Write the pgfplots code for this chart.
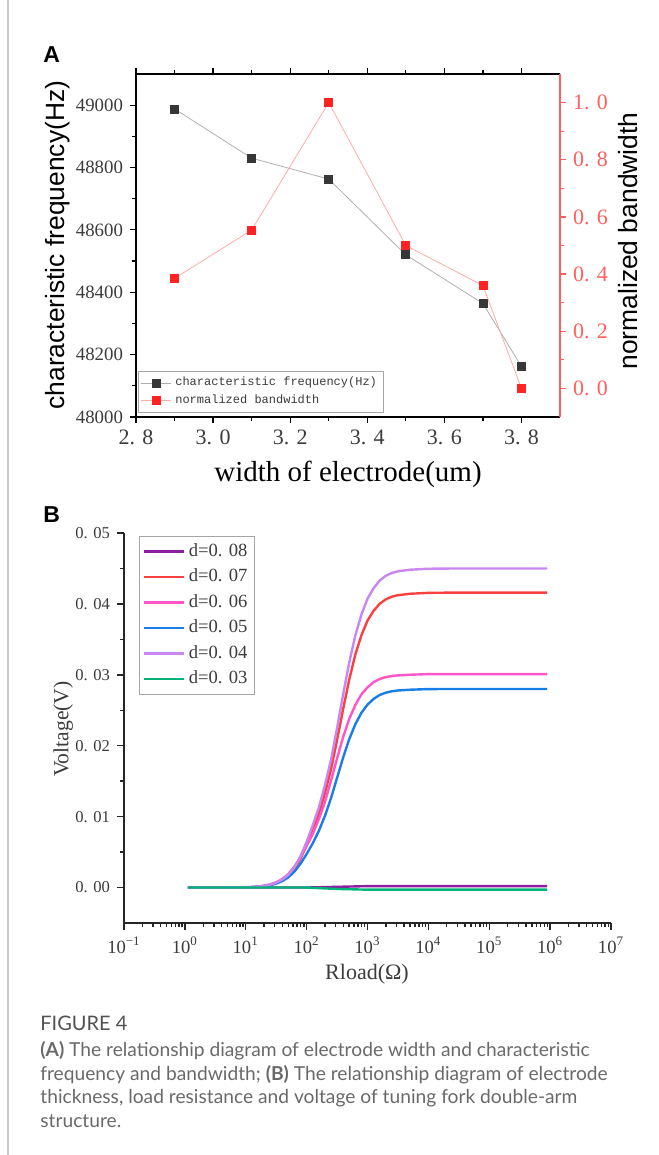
\documentclass[border=0pt]{standalone}
\usepackage{fontspec}
\setmainfont{Liberation Serif}
\setsansfont{Liberation Sans}
\setmonofont{Liberation Mono}
\newfontfamily\capfont{Lato}
\usepackage{pgfplots}
\pgfplotsset{compat=1.18}
\definecolor{fqdark}{RGB}{55,55,55}
\definecolor{fqline}{RGB}{175,175,175}
\definecolor{bwred}{RGB}{255,35,35}
\definecolor{bwline}{RGB}{255,170,170}
\definecolor{raxis}{RGB}{255,95,95}
\definecolor{dA}{RGB}{140,30,160}
\definecolor{dB}{RGB}{250,65,65}
\definecolor{dC}{RGB}{255,85,200}
\definecolor{dD}{RGB}{25,125,230}
\definecolor{dE}{RGB}{200,135,240}
\definecolor{dF}{RGB}{0,180,120}
\definecolor{txtgray}{RGB}{60,60,60}
\definecolor{capgray}{RGB}{105,105,105}

\begin{document}
\begin{tikzpicture}
\useasboundingbox (0,0) rectangle (329pt,577.5pt);
\draw[black!20, line width=1pt] (4pt,0) -- (4pt,577.5pt);
\node[anchor=base west, inner sep=0, font=\sffamily\bfseries\fontsize{11.5}{11.5}\selectfont] at (21.5pt,546pt) {A};
\node[anchor=base west, inner sep=0, font=\sffamily\bfseries\fontsize{11.5}{11.5}\selectfont] at (21.5pt,316pt) {B};

% panel A, frequency (left axis)
\begin{axis}[
  at={(68pt,369pt)}, anchor=south west, scale only axis,
  width=212pt, height=171.5pt,
  xmin=2.8, xmax=3.9, ymin=48000, ymax=49100,
  scaled ticks=false,
  axis x line*=box, axis y line*=left, axis line style={-, line width=0.7pt},
  tick align=outside, major tick length=3pt, minor tick length=2pt,
  tick style={black, line width=0.6pt},
  xtick={2.8,3,3.2,3.4,3.6,3.8}, xticklabels={2. 8,3. 0,3. 2,3. 4,3. 6,3. 8},
  ytick={48000,48200,48400,48600,48800,49000},
  yticklabels={48000,48200,48400,48600,48800,49000},
  minor x tick num=1, minor y tick num=1,
  x tick label style={font=\fontsize{11}{11}\selectfont, text=txtgray},
  y tick label style={font=\fontsize{9.4}{9.4}\selectfont, text=txtgray},
  xlabel={width of electrode(um)},
  ylabel={characteristic frequency(Hz)},
  xlabel style={at={(axis description cs:0.5,-0.166)}, anchor=center, font=\fontsize{14.5}{14.5}\selectfont},
  ylabel style={at={(axis description cs:-0.184,0.501)}, anchor=center, font=\sffamily\fontsize{13.2}{13.2}\selectfont},
]
\addplot[fqline, line width=0.4pt, mark=square*, mark size=2pt, mark options={draw=fqdark, fill=fqdark}]
  coordinates {(2.9,48988)(3.1,48830)(3.3,48763)(3.5,48520)(3.7,48364)(3.8,48162)};
\end{axis}

% panel A, bandwidth (right axis)
\begin{axis}[
  at={(68pt,369pt)}, anchor=south west, scale only axis,
  width=212pt, height=171.5pt,
  xmin=2.8, xmax=3.9, ymin=-0.1, ymax=1.1,
  axis x line=none, axis y line*=right,
  y axis line style={-, raxis, line width=0.7pt},
  tick align=outside, major tick length=3pt, minor tick length=2pt,
  ytick style={raxis, line width=0.6pt},
  ytick={0,0.2,0.4,0.6,0.8,1}, yticklabels={0. 0,0. 2,0. 4,0. 6,0. 8,1. 0},
  minor y tick num=1,
  y tick label style={font=\fontsize{11}{11}\selectfont, text=raxis},
  ylabel={normalized bandwidth},
  ylabel style={at={(axis description cs:1.16,0.513)}, anchor=center, font=\sffamily\fontsize{13.2}{13.2}\selectfont, text=black},
  legend style={at={(axis description cs:0.005,0.012)}, anchor=south west, draw=black!35,
    font=\ttfamily\fontsize{6}{6}\selectfont, text=txtgray, inner sep=1pt, row sep=-1pt},
  legend cell align=left,
  legend image code/.code={\draw[mark repeat=2, mark phase=2, #1] plot coordinates {(0pt,0pt) (7.5pt,0pt) (15pt,0pt)};},
]
\addlegendimage{fqline, line width=0.4pt, mark=square*, mark size=2pt, mark options={draw=fqdark, fill=fqdark}}
\addlegendentry{characteristic frequency(Hz)}
\addplot[bwline, line width=0.4pt, mark=square*, mark size=2pt, mark options={draw=bwred, fill=bwred}]
  coordinates {(2.9,0.385)(3.1,0.554)(3.3,1.0)(3.5,0.5)(3.7,0.36)(3.8,0.0)};
\addlegendentry{normalized bandwidth}
\end{axis}

% panel B
\begin{axis}[
  at={(62pt,116pt)}, anchor=south west, scale only axis,
  width=243.5pt, height=195pt,
  xmode=log, xmin=0.1, xmax=1e7, ymin=-0.005, ymax=0.05,
  scaled ticks=false,
  axis x line*=bottom, axis y line*=left, axis line style={-, line width=0.9pt, black!85},
  tick align=outside, major tick length=3.5pt, minor tick length=2pt,
  tick style={black!85, line width=0.7pt},
  xtick={0.1,1,10,100,1000,10000,100000,1000000,10000000},
  xticklabels={10\textsuperscript{−1},10\textsuperscript{0},10\textsuperscript{1},10\textsuperscript{2},10\textsuperscript{3},10\textsuperscript{4},10\textsuperscript{5},10\textsuperscript{6},10\textsuperscript{7}},
  ytick={0,0.01,0.02,0.03,0.04,0.05}, yticklabels={0. 00,0. 01,0. 02,0. 03,0. 04,0. 05},
  minor y tick num=1,
  y tick label style={font=\fontsize{8.3}{8.3}\selectfont, text=txtgray},
  x tick label style={font=\fontsize{9.3}{9.3}\selectfont, text=txtgray},
  xlabel={Rload(Ω)}, ylabel={Voltage(V)},
  xlabel style={at={(axis description cs:0.499,-0.131)}, anchor=center, font=\fontsize{11}{11}\selectfont, text=txtgray},
  ylabel style={at={(axis description cs:-0.125,0.497)}, anchor=center, font=\fontsize{10.8}{10.8}\selectfont, text=txtgray},
  legend style={at={(axis description cs:0.031,0.992)}, anchor=north west, draw=black!35,
    font=\fontsize{9.3}{9.3}\selectfont, text=txtgray, inner sep=1.5pt, row sep=0.8pt},
  legend cell align=left,
  legend image code/.code={\draw[#1] (0pt,0pt) -- (20pt,0pt);},
  every axis plot/.append style={line width=1.2pt},
]
\addplot[dA] coordinates {(1.122,0)(100,0)(316.2,0.0001)(1000,0.0002)(891251,0.0002)};
\addlegendentry{d=0. 08}
\addplot[dB] coordinates {(1.122,0)(10,0)(12.59,0.00004)(15.85,0.00012)(19.95,0.00021)(25.12,0.00037)(31.62,0.00062)(39.81,0.00104)(50.12,0.00166)(63.10,0.00262)(79.43,0.00408)(100,0.00595)(125.9,0.00811)(158.5,0.0104)(199.5,0.01331)(251.2,0.01664)(316.2,0.0208)(398.1,0.02517)(501.2,0.02933)(631.0,0.03286)(794.3,0.03557)(1000,0.03765)(1259,0.03902)(1585,0.04002)(1995,0.04064)(2512,0.04102)(3162,0.04123)(5012,0.04143)(10000,0.04156)(31623,0.0416)(891251,0.0416)};
\addlegendentry{d=0. 07}
\addplot[dC] coordinates {(1.122,0)(10,0.00003)(12.59,0.00009)(15.85,0.00015)(19.95,0.00027)(25.12,0.00045)(31.62,0.00075)(39.81,0.0012)(50.12,0.0019)(63.10,0.00295)(79.43,0.0043)(100,0.00587)(125.9,0.00753)(158.5,0.00963)(199.5,0.01204)(251.2,0.01505)(316.2,0.01821)(398.1,0.02122)(501.2,0.02378)(631.0,0.02574)(794.3,0.02724)(1000,0.02823)(1259,0.02896)(1585,0.02941)(1995,0.02968)(2512,0.02983)(3162,0.02992)(5012,0.03001)(10000,0.0301)(31623,0.0301)(891251,0.0301)};
\addlegendentry{d=0. 06}
\addplot[dD] coordinates {(1.122,0)(10,0.00001)(12.59,0.00006)(15.85,0.00011)(19.95,0.0002)(25.12,0.00034)(31.62,0.00056)(39.81,0.00091)(50.12,0.00144)(63.10,0.00225)(79.43,0.00337)(100,0.00473)(125.9,0.00623)(158.5,0.00798)(199.5,0.01008)(251.2,0.0126)(316.2,0.01547)(398.1,0.01834)(501.2,0.02093)(631.0,0.02303)(794.3,0.02464)(1000,0.0258)(1259,0.0266)(1585,0.02715)(1995,0.02748)(2512,0.02768)(3162,0.02779)(5012,0.0279)(10000,0.02799)(31623,0.028)(891251,0.028)};
\addlegendentry{d=0. 05}
\addplot[dE] coordinates {(1.122,0)(10,0)(12.59,0.00005)(15.85,0.00014)(19.95,0.00023)(25.12,0.00041)(31.62,0.00068)(39.81,0.00113)(50.12,0.0018)(63.10,0.00284)(79.43,0.00441)(100,0.00644)(125.9,0.00878)(158.5,0.01125)(199.5,0.0144)(251.2,0.018)(316.2,0.0225)(398.1,0.02723)(501.2,0.03173)(631.0,0.03555)(794.3,0.03848)(1000,0.04073)(1259,0.04221)(1585,0.04329)(1995,0.04397)(2512,0.04437)(3162,0.0446)(5012,0.04482)(10000,0.04496)(31623,0.045)(891251,0.045)};
\addlegendentry{d=0. 04}
\addplot[dF] coordinates {(1.122,0)(100,0)(316.2,-0.0002)(1000,-0.0003)(891251,-0.0003)};
\addlegendentry{d=0. 03}
\end{axis}

% caption
\node[anchor=base west, inner sep=0, font=\capfont\fontsize{10}{10}\selectfont, text=black!68] at (20pt,62pt) {FIGURE 4};
\node[anchor=base west, inner sep=0, font=\capfont\fontsize{9.6}{9.6}\selectfont, text=capgray] at (20pt,49pt) {{\bfseries (A)} The relationship diagram of electrode width and characteristic};
\node[anchor=base west, inner sep=0, font=\capfont\fontsize{9.6}{9.6}\selectfont, text=capgray] at (20pt,37pt) {frequency and bandwidth; {\bfseries (B)} The relationship diagram of electrode};
\node[anchor=base west, inner sep=0, font=\capfont\fontsize{9.6}{9.6}\selectfont, text=capgray] at (20pt,25.5pt) {thickness, load resistance and voltage of tuning fork double-arm};
\node[anchor=base west, inner sep=0, font=\capfont\fontsize{9.6}{9.6}\selectfont, text=capgray] at (20pt,13.5pt) {structure.};
\end{tikzpicture}
\end{document}
